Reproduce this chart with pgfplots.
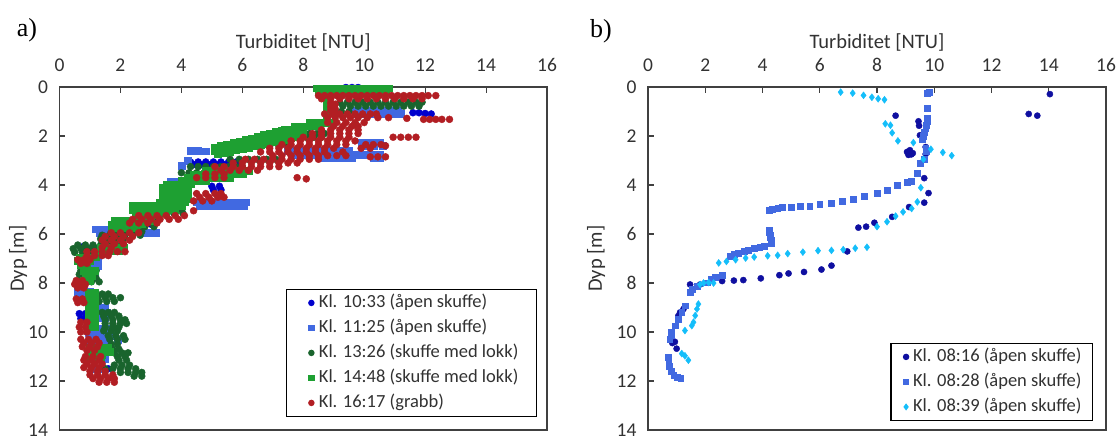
\documentclass[border=0pt]{standalone}
\usepackage{pgfplots}
\pgfplotsset{compat=1.18}
\usepackage{fontspec}
\setmainfont{Carlito}
\newfontfamily\panelfont{Liberation Serif}

% series colours
\definecolor{cAa}{RGB}{0,0,205}
\definecolor{cAb}{RGB}{65,105,225}
\definecolor{cAc}{RGB}{25,100,45}
\definecolor{cAd}{RGB}{30,160,50}
\definecolor{cAe}{RGB}{178,30,35}
\definecolor{cBa}{RGB}{15,15,160}
\definecolor{cBb}{RGB}{65,105,225}
\definecolor{cBc}{RGB}{20,190,250}
\definecolor{axisgray}{RGB}{64,64,64}
\definecolor{textgray}{RGB}{50,50,50}

\pgfplotsset{
  profile/.style={
    scale only axis, height=343pt,
    xmin=0, xmax=16, ymin=0, ymax=14, y dir=reverse,
    xtick={0,2,...,16}, ytick={0,2,...,14},
    xtick pos=right, xticklabel pos=right, ytick pos=left,
    tick align=inside, major tick length=5.5pt,
    axis line style={draw=axisgray, line width=1.3pt},
    every tick/.style={draw=axisgray, line width=1.1pt},
    /pgf/number format/assume math mode=true,
    tick label style={font=\fontsize{19.5}{22}\selectfont, text=textgray},
    xticklabel style={yshift=12pt},
    yticklabel style={xshift=-8pt},
    label style={font=\fontsize{20.5}{24}\selectfont, text=textgray},
    xlabel={Turbiditet [NTU]},
    ylabel={Dyp [m]},
    clip=false,
    legend cell align=left,
  },
  % #1: room left of the legend mark, #2: right of it, #3: legend inner xsep
  lgd/.style n args={3}{
    legend style={draw=black, line width=1.2pt, fill=white,
      font=\fontsize{18.5}{22}\selectfont, text=textgray,
      inner xsep=#3, inner ysep=1pt, row sep=0pt,
      nodes={inner sep=3pt, text height=14pt, text depth=5pt}},
    legend image code/.code={
      \path[draw=none, fill=none] (-#1,0pt) rectangle (#2,0.1pt);
      \path[##1, mark size=2.6pt, draw=none] plot[only marks] coordinates {(0pt,0pt)};
    },
  },
}

\begin{document}
\begin{tikzpicture}
\useasboundingbox (0pt,0pt) rectangle (1117pt,-440pt);

% ---------------- panel a ----------------
\begin{axis}[profile, lgd={10pt}{4.5pt}{15pt},
  at={(59.5pt,-87pt)}, anchor=north west, width=487.5pt,
  xlabel style={at={(axis description cs:0.5,1.13)}, anchor=center},
  ylabel style={at={(axis description cs:-0.085,0.5)}, anchor=center, rotate=0},
  legend style={at={(axis description cs:1,0)}, anchor=south east, xshift=-10pt, yshift=13pt},
]
% Kl. 10:33 (åpen skuffe)
\addplot[only marks, mark=*, mark size=3.5pt, color=cAa] coordinates {
(9.4,0.02)(9.6,0.02)(9.8,0.02)
(8.8,1.05)(11.2,1.05)(11.6,1.05)(11.8,1.05)(12.0,1.08)(12.2,1.1)
(4.3,3.06)(4.55,3.06)(4.8,3.06)(5.05,3.06)(5.3,3.06)(5.55,3.06)(5.8,3.06)
(4.4,3.17)(4.65,3.17)(4.9,3.17)(5.15,3.17)(5.4,3.17)(5.65,3.17)(5.9,3.17)
(5.0,4.05)(5.25,4.05)(5.05,4.2)(5.3,4.2)
(2.0,5.6)(2.5,5.6)(3.0,5.6)
(0.8,6.5)(1.1,6.5)(1.4,6.5)
(0.7,7.2)(0.9,7.2)
(0.85,8.3)
(0.65,9.25)(0.85,9.25)(0.7,9.45)(0.85,9.45)
(0.95,10.1)(1.1,10.1)
(1.25,11.5)(1.45,11.5)(1.6,11.5)
};
\addlegendentry{Kl. 10:33 (åpen skuffe)}
% Kl. 11:25 (åpen skuffe)
\addplot[only marks, mark=square*, mark size=3.4pt, color=cAb] coordinates {
(9.7,0.95)(9.9,0.95)(10.1,0.95)(10.3,0.95)(10.5,0.95)(10.7,0.95)(10.9,0.95)(11.1,0.95)
(9.8,1.1)(10.0,1.1)(10.2,1.1)(10.4,1.1)(10.6,1.1)(10.8,1.1)(11.0,1.1)(11.2,1.1)
(9.9,2.25)(10.1,2.25)(10.3,2.25)(10.5,2.25)
(9.9,2.4)(10.1,2.4)(10.3,2.4)(10.6,2.4)
(4.3,2.6)(4.55,2.6)(4.8,2.62)
(7.5,2.6)(7.7,2.6)(7.9,2.6)(8.1,2.6)(8.3,2.6)(8.5,2.6)(8.7,2.6)(8.9,2.6)(9.1,2.6)(9.3,2.6)(9.5,2.6)
(7.7,2.75)(7.9,2.75)(8.1,2.75)(8.3,2.75)(8.5,2.75)(8.7,2.75)(8.9,2.75)(9.1,2.75)(9.3,2.75)(9.5,2.75)(9.7,2.75)(9.9,2.75)(10.1,2.75)(10.3,2.75)(10.5,2.75)
(8.6,2.9)(8.8,2.9)(9.0,2.9)(9.2,2.9)(9.4,2.9)(9.6,2.9)(10.3,2.9)(10.5,2.9)
(4.2,3.0)(4.0,3.2)
(3.65,3.85)(3.9,3.85)
(4.5,4.7)(4.7,4.7)(4.9,4.7)(5.1,4.7)(5.3,4.7)(5.5,4.7)(5.7,4.7)(5.9,4.7)(6.1,4.7)
(4.6,4.85)(4.8,4.85)(5.0,4.85)(5.2,4.85)(5.4,4.85)(5.6,4.85)(5.8,4.85)(6.05,4.85)
(1.2,5.8)(1.4,5.8)(1.6,5.8)(1.8,5.8)(2.0,5.8)
(1.3,5.95)(1.5,5.95)(1.7,5.95)(1.9,5.95)(2.1,5.95)(2.75,5.95)(2.95,5.95)(3.15,5.95)
(0.85,7.1)(1.05,7.1)(1.25,7.1)
(0.9,7.3)(1.1,7.3)(1.25,7.3)
(0.9,7.5)(1.1,7.5)
(0.95,7.7)(1.15,7.7)
(0.6,8.35)(0.8,8.35)(1.0,8.35)
(0.7,8.5)(0.9,8.5)
(1.1,9.0)(1.3,9.0)(1.5,9.0)
(1.15,9.2)(1.35,9.2)(1.55,9.2)
(1.1,9.4)(1.3,9.4)(1.5,9.4)
(0.95,9.85)(1.15,9.85)(1.35,9.85)(1.55,9.85)
(0.95,10.0)(1.15,10.0)(1.35,10.0)
(1.0,10.15)(1.2,10.15)(1.4,10.15)(1.6,10.15)(1.8,10.15)
(1.0,10.3)(1.2,10.3)(1.4,10.3)(1.6,10.3)(1.9,10.3)
(1.1,10.45)(1.3,10.45)(1.5,10.45)
(1.3,11.1)(1.5,11.1)
(1.2,11.5)(1.4,11.5)
};
\addlegendentry{Kl. 11:25 (åpen skuffe)}
% Kl. 13:26 (skuffe med lokk)
\addplot[only marks, mark=*, mark size=3.5pt, color=cAc] coordinates {
(9.2,0.62)(9.45,0.62)(9.7,0.62)(9.95,0.62)(10.2,0.62)(10.45,0.62)(10.7,0.62)(10.95,0.62)(11.2,0.62)(11.45,0.62)(11.7,0.62)(11.9,0.62)
(9.3,0.78)(9.55,0.78)(9.8,0.78)(10.05,0.78)(10.3,0.78)(10.55,0.78)(10.8,0.78)(11.05,0.78)(11.3,0.78)(11.55,0.78)(11.8,0.78)
(9.0,1.0)(9.25,1.0)(9.5,1.0)
(7.7,1.9)(7.95,1.9)(8.2,1.9)(8.45,1.9)(8.7,1.9)
(7.6,2.05)(7.85,2.05)(8.1,2.05)(8.35,2.05)(8.6,2.05)
(6.6,2.4)(6.9,2.4)(7.2,2.4)(7.5,2.4)
(5.6,2.95)(5.9,2.95)(6.2,2.95)(6.5,2.95)(6.8,2.95)(7.1,2.95)
(4.3,3.25)(4.55,3.25)(4.8,3.25)(5.05,3.25)(5.3,3.25)(5.55,3.25)(5.8,3.25)(6.0,3.25)
(4.0,3.5)(4.25,3.5)(4.5,3.5)(4.75,3.5)
(3.9,4.2)(4.1,4.2)
(3.0,5.0)(3.25,5.0)(3.5,5.0)(3.75,5.0)(4.0,5.0)
(3.0,5.15)(3.25,5.15)(3.5,5.15)(3.75,5.15)(4.05,5.15)
(1.9,5.5)(2.15,5.5)(2.4,5.5)(2.65,5.5)(2.9,5.5)(3.15,5.5)
(1.8,5.7)(2.05,5.7)(2.3,5.7)(2.55,5.7)(2.8,5.7)(3.1,5.7)
(1.7,5.9)(1.95,5.9)(2.2,5.9)(2.45,5.9)(2.7,5.9)
(1.4,6.05)(1.65,6.05)(1.9,6.05)(2.15,6.05)(2.4,6.05)(2.65,6.05)
(1.35,6.2)(1.6,6.2)(1.85,6.2)(2.1,6.2)
(0.6,6.45)(0.85,6.45)(1.1,6.45)(1.35,6.45)(1.6,6.45)(1.85,6.45)(2.05,6.45)
(0.45,6.6)(0.7,6.6)(0.95,6.6)(1.2,6.6)(1.45,6.6)(1.7,6.6)
(0.5,6.75)(0.75,6.75)(1.0,6.75)
(0.7,7.5)(0.95,7.5)(1.2,7.5)
(0.65,7.65)(0.9,7.65)(1.15,7.65)
(0.7,7.8)(0.95,7.8)(1.2,7.8)
(0.8,7.95)(1.05,7.95)(1.3,7.95)
(1.2,8.45)(1.4,8.45)(1.6,8.45)
(1.25,8.6)(1.5,8.6)(1.75,8.6)(2.0,8.6)
(1.3,8.75)(1.55,8.75)(1.8,8.75)
(1.4,9.2)(1.6,9.2)(1.8,9.2)
(1.45,9.35)(1.7,9.35)(1.95,9.35)
(1.5,9.5)(1.75,9.5)(2.0,9.5)(2.15,9.5)
(1.5,9.65)(1.75,9.65)(2.0,9.65)(2.2,9.65)
(1.5,9.8)(1.75,9.8)(1.95,9.8)
(1.45,9.95)(1.7,9.95)(1.9,9.95)
(1.6,10.15)(1.85,10.15)(2.1,10.15)
(1.65,10.3)(1.9,10.3)(2.15,10.3)
(1.7,10.5)(1.9,10.5)
(1.75,10.7)(1.95,10.7)
(1.8,10.85)(2.05,10.85)(2.25,10.85)
(1.9,11.0)(2.15,11.0)
(1.95,11.15)(2.2,11.15)
(1.8,11.35)(2.05,11.35)(2.3,11.35)
(1.5,11.5)(1.75,11.5)(2.0,11.5)(2.25,11.5)(2.5,11.5)
(2.0,11.65)(2.25,11.65)(2.5,11.65)(2.7,11.65)
(2.45,11.8)(2.7,11.8)
};
\addlegendentry{Kl. 13:26 (skuffe med lokk)}
% Kl. 14:48 (skuffe med lokk)
\addplot[only marks, mark=square*, mark size=3.4pt, color=cAd] coordinates {
(8.45,0.05)(8.65,0.05)(8.85,0.05)(9.05,0.05)(9.25,0.05)(9.45,0.05)(9.65,0.05)(9.85,0.05)(10.05,0.05)(10.25,0.05)(10.45,0.05)(10.65,0.05)(10.8,0.05)
(8.5,0.18)(8.7,0.18)(8.9,0.18)(9.1,0.18)(9.3,0.18)(9.5,0.18)(9.7,0.18)(9.9,0.18)(10.1,0.18)(10.3,0.18)(10.5,0.18)(10.7,0.18)
(8.75,0.35)(8.75,0.55)(8.75,0.75)(8.75,0.95)(8.75,1.15)
(8.2,1.45)(8.45,1.45)(8.7,1.45)(8.9,1.45)
(7.7,1.6)(7.95,1.6)(8.2,1.6)(8.45,1.6)
(7.4,1.75)(7.6,1.75)(7.8,1.75)(8.0,1.75)
(5.1,2.47)(5.3,2.41)(5.5,2.34)(5.7,2.28)(5.9,2.21)(6.1,2.15)(6.3,2.09)(6.5,2.02)(6.7,1.96)(6.9,1.9)(7.1,1.83)(7.3,1.77)
(5.1,2.61)(5.3,2.55)(5.5,2.49)(5.7,2.43)(5.9,2.37)(6.1,2.31)(6.3,2.25)(6.5,2.19)(6.7,2.13)(6.9,2.07)(7.1,2.01)(7.3,1.95)(7.5,1.89)(7.7,1.84)
(5.2,2.74)(5.4,2.69)(5.6,2.63)(5.8,2.58)(6.0,2.52)(6.2,2.47)(6.4,2.41)(6.6,2.36)(6.8,2.3)(7.0,2.25)(7.2,2.19)(7.4,2.14)(7.6,2.08)(7.8,2.03)(8.0,1.97)
(4.8,3.42)(5.0,3.42)(5.2,3.42)(5.4,3.42)(5.6,3.42)(5.8,3.42)(6.0,3.42)(6.2,3.42)
(4.4,3.56)(4.6,3.56)(4.8,3.56)(5.0,3.56)(5.2,3.56)(5.4,3.56)(5.6,3.56)(5.8,3.56)(6.0,3.56)
(4.2,3.7)(4.4,3.7)(4.6,3.7)(4.8,3.7)(5.0,3.7)(5.2,3.7)(5.4,3.7)(5.6,3.7)
(4.0,3.84)(4.2,3.84)(4.4,3.84)(4.6,3.84)(4.8,3.84)
(3.5,3.97)(3.7,3.97)(3.9,3.97)(4.1,3.97)(4.3,3.97)
(3.4,4.1)(3.6,4.1)(3.8,4.1)(4.0,4.1)(4.2,4.1)
(3.4,4.25)(3.6,4.25)(3.8,4.25)(4.0,4.25)(4.2,4.25)
(3.4,4.4)(3.6,4.4)(3.8,4.4)(4.0,4.4)(4.2,4.4)
(3.4,4.55)(3.6,4.55)(3.8,4.55)(4.0,4.55)(4.2,4.55)
(3.3,4.7)(3.5,4.7)(3.7,4.7)(3.9,4.7)(4.1,4.7)
(2.4,4.85)(2.6,4.85)(2.8,4.85)(3.0,4.85)(3.2,4.85)(3.4,4.85)(3.6,4.85)(3.8,4.85)(4.0,4.85)
(2.4,5.0)(2.6,5.0)(2.8,5.0)(3.0,5.0)(3.2,5.0)(3.4,5.0)(3.6,5.0)(3.8,5.0)
(2.5,5.15)(2.7,5.15)(2.9,5.15)(3.1,5.15)(3.3,5.15)(3.5,5.15)
(1.8,5.45)(2.0,5.45)(2.2,5.45)(2.4,5.45)(2.6,5.45)(2.8,5.45)(3.0,5.45)
(1.7,5.6)(1.9,5.6)(2.1,5.6)(2.3,5.6)(2.5,5.6)(2.7,5.6)
(1.7,5.75)(1.9,5.75)(2.1,5.75)(2.3,5.75)(2.5,5.75)
(1.35,6.55)(1.55,6.55)(1.75,6.55)(1.95,6.55)(2.1,6.55)
(1.35,6.7)(1.55,6.7)(1.75,6.7)(1.95,6.7)
(0.65,6.95)(0.85,6.95)(1.05,6.95)(1.2,6.95)
(0.6,7.1)(0.8,7.1)(1.0,7.1)
(0.7,7.25)(0.9,7.25)
(0.8,7.5)(1.0,7.5)(1.15,7.5)
(0.85,7.7)(1.05,7.7)
(0.8,7.9)(1.0,7.9)
(0.95,8.4)(1.15,8.4)(0.95,8.6)(1.15,8.6)(0.95,8.8)(1.15,8.8)(0.95,9.0)(1.15,9.0)
(0.95,9.2)(1.15,9.2)(0.95,9.4)(1.15,9.4)(0.95,9.6)(1.15,9.6)(0.95,9.8)(1.15,9.8)
(1.0,10.65)(1.2,10.65)(1.4,10.65)(1.6,10.65)
(1.0,10.8)(1.2,10.8)(1.4,10.8)(1.65,10.8)
(1.0,10.95)(1.2,10.95)(1.4,10.95)
(0.95,11.1)(1.15,11.1)(1.35,11.1)
};
\addlegendentry{Kl. 14:48 (skuffe med lokk)}
% Kl. 16:17 (grabb)
\addplot[only marks, mark=*, mark size=3.5pt, color=cAe] coordinates {
(8.5,0.35)(8.7,0.35)(8.9,0.35)(9.1,0.35)(9.3,0.35)(9.5,0.35)(9.7,0.35)(9.9,0.35)(10.1,0.35)(10.3,0.35)
(10.5,0.35)(10.7,0.35)(10.9,0.35)(11.1,0.35)(11.3,0.35)(11.5,0.35)(11.7,0.35)(11.9,0.35)(12.1,0.35)(12.35,0.35)
(8.6,0.48)(8.9,0.48)(9.2,0.48)(9.5,0.48)(9.8,0.48)(10.1,0.48)(10.4,0.48)(10.7,0.48)(11.0,0.48)(11.3,0.48)(11.6,0.48)(11.9,0.48)
(8.9,0.65)(8.9,0.8)(8.9,0.95)(9.05,0.7)(9.05,0.9)(9.05,1.1)
(8.7,1.1)(8.95,1.1)(9.2,1.1)(9.45,1.1)(9.7,1.1)(9.95,1.1)(10.2,1.1)(10.4,1.1)
(8.8,1.25)(9.05,1.25)(9.3,1.25)(9.55,1.25)(9.8,1.25)(10.1,1.25)(10.45,1.25)(10.8,1.25)(11.4,1.28)
(11.95,1.32)(12.15,1.32)(12.35,1.32)(12.55,1.32)(12.8,1.32)
(8.8,1.45)(9.1,1.45)(9.4,1.45)(9.7,1.45)(10.0,1.45)
(9.0,1.6)(9.3,1.6)(9.6,1.6)(9.8,1.6)
(8.6,1.75)(8.9,1.75)(9.2,1.75)(9.5,1.75)(9.8,1.75)
(8.3,1.9)(8.6,1.9)(8.9,1.9)(9.2,1.9)(9.5,1.9)(9.8,1.9)
(8.0,2.05)(8.3,2.05)(8.6,2.05)(8.9,2.05)(9.2,2.05)(9.5,2.05)(10.95,2.05)(11.2,2.05)(11.45,2.05)(11.7,2.05)
(7.6,2.2)(7.9,2.2)(8.2,2.2)(8.5,2.2)(8.8,2.2)(9.1,2.2)(9.4,2.2)(9.7,2.2)
(7.3,2.35)(7.6,2.35)(7.9,2.35)(8.2,2.35)(8.5,2.35)(8.8,2.35)(9.1,2.35)(9.4,2.35)(10.05,2.35)(10.3,2.35)(10.55,2.35)(10.7,2.4)
(6.9,2.5)(7.2,2.5)(7.5,2.5)(7.8,2.5)(8.1,2.5)(8.4,2.5)(8.7,2.5)(9.0,2.5)(9.9,2.5)(10.2,2.5)
(6.6,2.65)(6.9,2.65)(7.2,2.65)(7.5,2.65)(7.8,2.65)(8.1,2.65)(8.4,2.65)(8.7,2.65)(9.3,2.65)
(7.0,2.8)(7.3,2.8)(7.6,2.8)(7.9,2.8)(8.2,2.8)(8.5,2.8)(8.8,2.8)(9.1,2.8)(9.4,2.8)(10.2,2.85)(10.45,2.85)(10.7,2.85)
(6.1,2.95)(6.4,2.95)(6.7,2.95)(7.0,2.95)(7.3,2.95)(7.6,2.95)(7.9,2.95)(8.2,2.95)(8.5,2.95)
(5.7,3.1)(6.0,3.1)(6.3,3.1)(6.6,3.1)(6.9,3.1)(7.2,3.1)(7.5,3.1)(7.8,3.1)
(5.1,3.25)(5.4,3.25)(5.7,3.25)(6.0,3.25)(6.3,3.25)(6.6,3.25)(6.9,3.25)(7.2,3.25)
(5.3,3.4)(5.6,3.4)(5.9,3.4)(6.2,3.4)(6.5,3.4)
(4.8,3.55)(5.1,3.55)(5.4,3.55)
(4.5,3.7)(4.8,3.7)(5.1,3.7)(5.4,3.7)(7.8,3.7)(8.1,3.75)
(4.5,4.35)(4.8,4.35)(5.1,4.35)(5.3,4.35)
(4.6,4.5)(4.9,4.5)(5.2,4.5)(5.4,4.5)
(4.4,4.65)(4.7,4.65)(5.0,4.65)
(4.4,5.05)
(2.6,5.25)(2.9,5.25)(3.2,5.25)(3.5,5.25)(3.8,5.25)(4.1,5.25)
(2.4,5.4)(2.7,5.4)(3.0,5.4)(3.3,5.4)(3.6,5.4)(3.9,5.4)
(2.3,5.55)(2.6,5.55)(2.9,5.55)(3.2,5.55)
(1.7,5.95)(2.0,5.95)(2.3,5.95)(2.6,5.95)
(1.5,6.1)(1.8,6.1)(2.1,6.1)(2.4,6.1)
(1.4,6.25)(1.7,6.25)(2.0,6.25)(2.3,6.25)
(1.5,6.4)(1.8,6.4)(2.1,6.4)
(1.4,6.55)(1.7,6.55)
(0.9,6.72)(1.15,6.72)(1.4,6.72)(1.65,6.72)(1.9,6.72)(2.15,6.72)
(0.9,6.88)(1.15,6.88)(1.4,6.88)(1.6,6.88)
(0.6,7.05)(0.8,7.05)(1.0,7.05)
(0.7,7.2)(0.9,7.2)
(0.55,7.9)(0.75,7.9)
(0.5,8.05)(0.7,8.05)(0.85,8.05)
(0.6,8.2)(0.8,8.2)
(0.55,8.65)(0.75,8.65)(0.6,8.8)(0.8,8.8)
(0.7,9.6)(0.9,9.6)(0.65,9.8)(0.85,9.8)(0.7,10.0)(0.9,10.0)
(0.7,10.3)(0.95,10.3)(1.2,10.3)
(0.8,10.45)(1.05,10.45)(1.3,10.45)
(0.75,10.6)(1.0,10.6)(1.25,10.6)
(0.9,10.75)(1.15,10.75)
(0.85,11.0)(1.1,11.0)(1.35,11.0)
(0.8,11.15)(1.05,11.15)(1.3,11.15)
(0.9,11.3)(1.15,11.3)(1.4,11.3)
(0.8,11.45)(1.05,11.45)(1.3,11.45)
(1.0,11.6)(1.25,11.6)(1.5,11.6)
(1.0,11.75)(1.25,11.75)(1.5,11.75)(1.75,11.75)
(1.1,11.9)(1.35,11.9)(1.6,11.9)(1.8,11.9)
(1.3,12.05)(1.55,12.05)(1.8,12.05)
};
\addlegendentry{Kl. 16:17 (grabb)}
\end{axis}

% ---------------- panel b ----------------
\begin{axis}[profile, lgd={7pt}{4pt}{8pt},
  at={(648pt,-87pt)}, anchor=north west, width=458pt,
  xlabel style={at={(axis description cs:0.5,1.13)}, anchor=center},
  ylabel style={at={(axis description cs:-0.1135,0.5)}, anchor=center, rotate=0},
  legend style={at={(axis description cs:1,0)}, anchor=south east, xshift=-13pt, yshift=9pt},
]
% Kl. 08:16 (åpen skuffe)
\addplot[only marks, mark=*, mark size=3.1pt, color=cBa] coordinates {
(14.04,0.29)(13.3,1.10)(13.6,1.17)(8.65,1.17)(9.45,1.40)(9.47,1.58)(9.5,1.97)
(9.05,2.65)(9.15,2.58)(9.25,2.7)(9.1,2.77)(9.2,2.75)(9.7,2.45)(9.75,2.6)(9.7,2.74)
(9.65,3.72)(9.8,4.33)(9.65,4.72)(9.12,4.9)(8.53,5.3)(7.91,5.54)(7.62,5.7)(7.35,5.74)
(6.96,6.71)(6.41,7.29)(6.06,7.45)(5.45,7.55)(4.91,7.61)(4.59,7.68)(3.94,7.81)(3.33,7.88)
(3.0,7.9)(2.59,7.92)(1.82,8.06)(1.47,8.06)(1.24,9.06)(1.12,9.2)(1.06,9.34)
(0.94,10.4)(1.0,10.68)(0.85,10.45)
};
\addlegendentry{Kl. 08:16 (åpen skuffe)}
% Kl. 08:28 (åpen skuffe)
\addplot[only marks, mark=square*, mark size=2.9pt, color=cBb] coordinates {
(9.76,0.25)(9.82,0.2)(9.76,0.86)(9.76,1.26)(9.76,1.4)(9.72,1.55)(9.7,1.7)(9.65,1.85)
(9.6,2.0)(9.58,2.15)(9.7,2.5)(9.72,2.62)(9.65,2.94)(9.5,3.1)(9.4,3.52)(9.2,3.86)(9.05,3.88)
(8.7,4.02)(8.35,4.22)(8.0,4.33)(7.56,4.46)(7.18,4.58)(6.79,4.65)(6.41,4.73)(6.0,4.79)
(5.65,4.85)(5.32,4.87)(5.0,4.89)(4.7,4.92)(4.53,4.95)(4.35,4.99)(4.24,5.03)
(4.24,5.85)(4.24,5.95)(4.27,6.05)(4.27,6.15)(4.3,6.25)(4.3,6.37)
(4.06,6.5)(3.9,6.55)(3.71,6.58)(3.5,6.65)(3.35,6.71)(3.15,6.78)(3.0,6.84)(2.88,6.91)
(2.59,7.69)(2.35,7.75)(2.2,7.82)(2.06,7.99)(1.71,8.12)(1.53,8.26)(1.47,8.39)
(1.29,8.93)(1.18,9.2)(1.06,9.47)(0.94,9.74)(0.82,10.0)(0.8,10.15)(0.76,10.3)
(0.71,11.02)(0.72,11.2)(0.75,11.4)(0.8,11.6)(0.9,11.75)(1.02,11.85)(1.14,11.9)
};
\addlegendentry{Kl. 08:28 (åpen skuffe)}
% Kl. 08:39 (åpen skuffe)
\addplot[only marks, mark=diamond*, mark size=3.5pt, color=cBc] coordinates {
(6.73,0.21)(7.15,0.25)(7.53,0.34)(7.82,0.42)(8.04,0.48)(8.26,0.52)
(8.29,1.5)(8.47,1.56)(8.53,1.87)(8.73,2.2)(9.27,2.27)(9.88,2.54)(10.3,2.67)(10.61,2.8)(9.62,2.95)
(9.53,4.11)(9.41,4.69)(9.21,4.96)(8.91,5.1)(8.65,5.27)(8.35,5.5)(8.0,5.7)
(7.65,6.54)(7.24,6.58)(6.82,6.64)(6.41,6.67)(5.94,6.68)(5.41,6.74)(4.88,6.8)(4.53,6.87)
(4.18,6.89)(3.71,6.94)(3.41,6.98)(3.06,7.05)(2.74,7.12)(2.47,7.18)
(2.29,8.0)(2.12,7.98)(1.94,8.0)(1.82,8.06)
(1.76,8.86)(1.71,9.06)(1.65,9.33)(1.59,9.6)(1.53,9.74)(1.29,9.94)
(1.18,10.88)(1.29,10.97)(1.41,11.15)
};
\addlegendentry{Kl. 08:39 (åpen skuffe)}
\end{axis}

% panel letters
\node[font=\panelfont\fontsize{26}{30}\selectfont, anchor=center] at (27pt,-30pt) {a)};
\node[font=\panelfont\fontsize{26}{30}\selectfont, anchor=center] at (601pt,-31pt) {b)};
\end{tikzpicture}
\end{document}
